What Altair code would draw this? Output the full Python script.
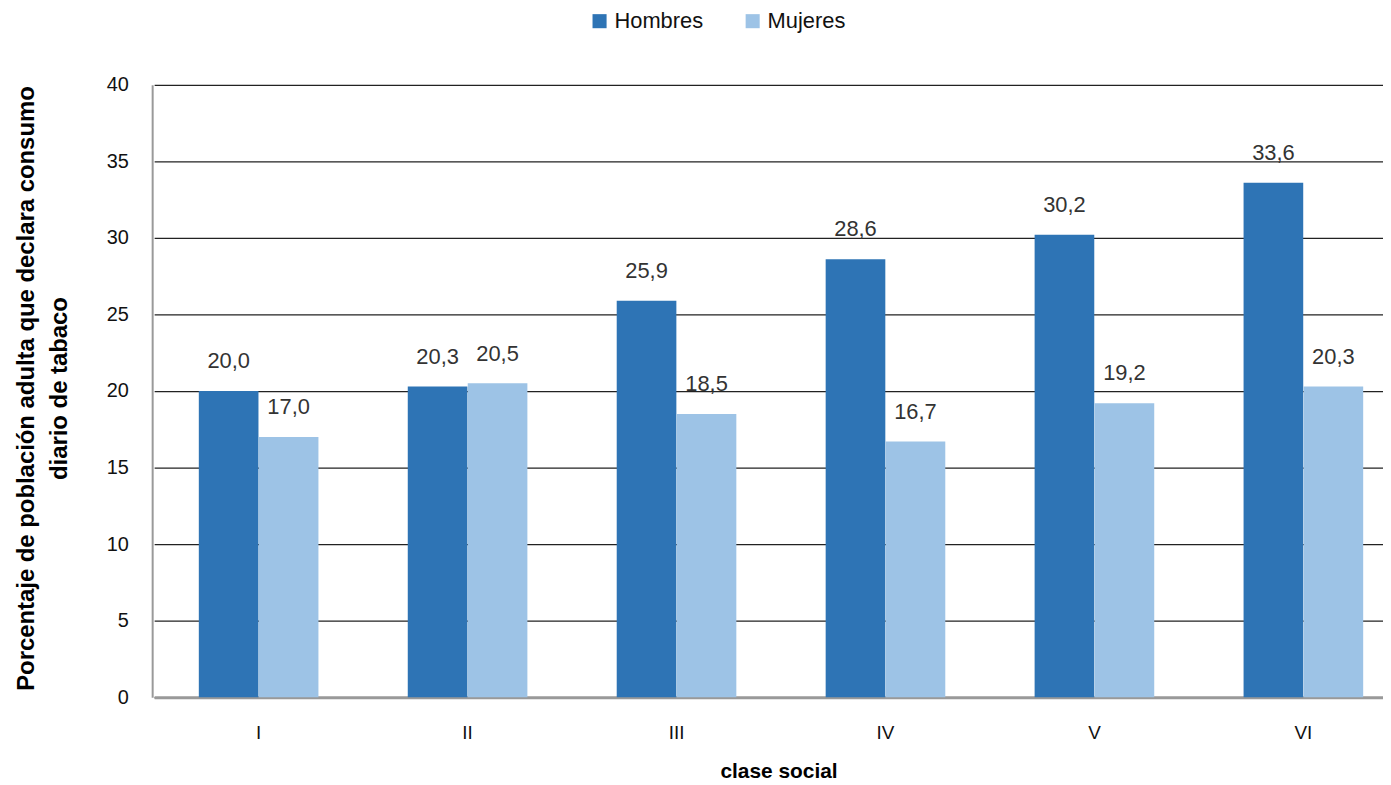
import altair as alt
import pandas as pd

clases = ["I", "II", "III", "IV", "V", "VI"]
hombres = [20.0, 20.3, 25.9, 28.6, 30.2, 33.6]
mujeres = [17.0, 20.5, 18.5, 16.7, 19.2, 20.3]
series = ["Hombres", "Mujeres"]
colores = ["#2E74B5", "#9DC3E6"]
y_ticks = [0, 5, 10, 15, 20, 25, 30, 35, 40]

rows = []
for c, h, m in zip(clases, hombres, mujeres):
    rows.append({"clase": c, "sexo": "Hombres", "valor": h})
    rows.append({"clase": c, "sexo": "Mujeres", "valor": m})
df = pd.DataFrame(rows)
df["etiqueta"] = df["valor"].map(lambda v: f"{v:.1f}".replace(".", ","))

FONT = "Liberation Sans"

x = alt.X(
    "clase:N",
    sort=clases,
    scale=alt.Scale(range=[2, 1263], paddingInner=0.426, paddingOuter=0.213),
    axis=alt.Axis(
        title="clase social",
        labelAngle=0,
        labelFontSize=19,
        labelColor="#111",
        labelPadding=26,
        ticks=False,
        domainColor="#999",
        domainWidth=3,
        titleFontSize=21,
        titleFontWeight="bold",
        titleColor="#000",
        titleX=630,
        titleY=75,
        titleBaseline="middle",
        titleAlign="center",
        grid=False,
    ),
)
xo = alt.XOffset("sexo:N", sort=series, scale=alt.Scale(paddingInner=0, paddingOuter=0))
y = alt.Y(
    "valor:Q",
    scale=alt.Scale(domain=[0, 40], nice=False),
    axis=alt.Axis(
        values=y_ticks,
        title=["Porcentaje de población adulta que declara consumo", "diario de tabaco"],
        titleFontSize=24,
        titleFontWeight="bold",
        titleColor="#000",
        titleAngle=270,
        titleX=-126,
        titleY=305,
        titleAlign="center",
        titleBaseline="middle",
        titleLineHeight=33,
        labelFontSize=20,
        labelColor="#111",
        labelPadding=24,
        ticks=False,
        domainColor="#999",
        domainWidth=2,
        grid=True,
        gridColor="#222",
        gridWidth=1.3,
    ),
)

bars = alt.Chart(df).mark_bar(size=60).encode(
    x=x,
    xOffset=xo,
    y=y,
    color=alt.Color(
        "sexo:N",
        sort=series,
        scale=alt.Scale(domain=series, range=colores),
        legend=alt.Legend(
            title=None,
            orient="none",
            legendX=439,
            legendY=-75,
            direction="horizontal",
            symbolType="square",
            symbolSize=200,
            symbolStrokeWidth=0,
            labelFontSize=22,
            labelColor="#111",
            labelOffset=4,
            columnPadding=38,
            padding=0,
        ),
    ),
)

text = alt.Chart(df).mark_text(dy=-30, fontSize=22, color="#333", font=FONT).encode(
    x=x,
    xOffset=xo,
    y=alt.Y("valor:Q"),
    text="etiqueta:N",
)

chart = (
    alt.layer(bars, text)
    .properties(
        width=1238,
        height=616,
        autosize=alt.AutoSizeParams(type="none"),
        padding={"left": 145, "top": 75, "right": 0, "bottom": 85},
    )
    .configure(font=FONT)
    .configure_view(stroke=None)
)

chart.save("out.html", embed_options={"renderer": "svg", "actions": False})
